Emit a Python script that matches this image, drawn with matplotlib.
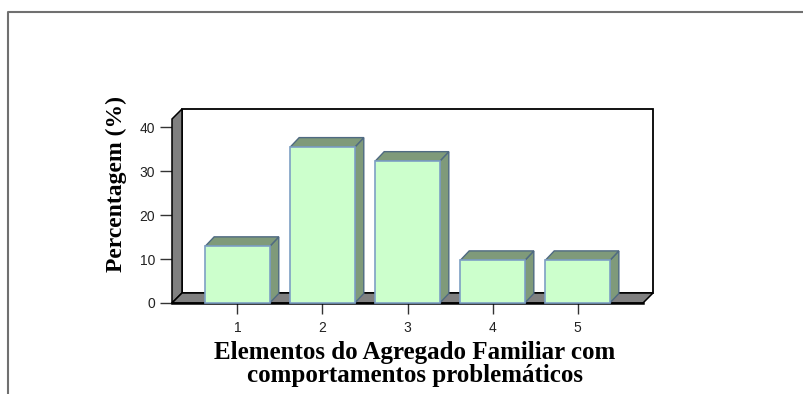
import matplotlib.pyplot as plt
from matplotlib.patches import Polygon, Rectangle
from matplotlib.lines import Line2D

# dados do grafico
categorias = [1, 2, 3, 4, 5]
percentagens = [12.9, 35.5, 32.3, 9.7, 9.7]
yticks = [0, 10, 20, 30, 40]
ylabel = 'Percentagem (%)'
xlabel = 'Elementos do Agregado Familiar com\ncomportamentos problemáticos'

fig = plt.figure(figsize=(8.04, 3.94), dpi=100)
ax = fig.add_axes([172/804, 1-303/394, 471/804, 184/394])
x0, x1 = 0.23, 5.77
ytop = 41.9
ax.set_xlim(x0, x1)
ax.set_ylim(0, ytop)


def depth(dpx, dpy):
    # offset in pixels -> data units
    o = ax.transData.transform((0, 0))
    p = ax.transData.inverted().transform((o[0]+dpx, o[1]+dpy))
    return p[0], p[1]


dx, dy = depth(10, 10)
gray = '#808080'

# back wall, left wall, floor
ax.add_patch(Rectangle((x0+dx, dy), x1-x0, ytop, fc='white', ec='black', lw=1.3, clip_on=False, zorder=1))
ax.add_patch(Polygon([(x0, 0), (x0+dx, dy), (x0+dx, ytop+dy), (x0, ytop)], closed=True,
                     fc=gray, ec='black', lw=1.1, clip_on=False, zorder=2))
ax.add_patch(Polygon([(x0, 0), (x0+dx, dy), (x1+dx, dy), (x1, 0)], closed=True,
                     fc=gray, ec='black', lw=1.1, clip_on=False, zorder=2))
ax.add_line(Line2D([x0, x1], [0, 0], color='black', lw=1.8, clip_on=False, zorder=2))

# bars
w = 0.76
bx, by = depth(9, 9.5)
for c, v in zip(categorias, percentagens):
    l, r = c - w/2, c + w/2
    ax.add_patch(Polygon([(r, 0), (r+bx, by), (r+bx, v+by), (r, v)], closed=True,
                         fc='#7f9a7a', ec='#4f6a82', lw=1, clip_on=False, zorder=3))
    ax.add_patch(Polygon([(l, v), (l+bx, v+by), (r+bx, v+by), (r, v)], closed=True,
                         fc='#7f9a7a', ec='#4f6a82', lw=1, clip_on=False, zorder=3))
    ax.add_patch(Rectangle((l, 0), w, v, fc='#ccffcc', ec='#7da0c4', lw=1.2, clip_on=False, zorder=4))

for s in ax.spines.values():
    s.set_visible(False)
ax.set_facecolor('none')
ax.set_xticks(categorias)
ax.set_yticks(yticks)
ax.tick_params(axis='y', length=9, width=1, color='#333333', pad=3, labelsize=10,
               labelcolor='#222222')
ax.tick_params(axis='x', length=8, width=1, color='#333333', pad=5, labelsize=10,
               labelcolor='#222222')
for t in ax.get_xticklabels() + ax.get_yticklabels():
    t.set_family('Liberation Sans')

fig.text(116/804, 1-184/394, ylabel, rotation=90, ha='center', va='center',
         family='Liberation Serif', weight='bold', fontsize=17)
fig.text(415/804, 1-364/394, xlabel, ha='center', va='center', multialignment='center',
         family='Liberation Serif', weight='bold', fontsize=18, linespacing=1.0)

# outer frame
fig.add_artist(Line2D([8/804, 8/804, 1], [0, 1-12/394, 1-12/394], color='#707070', lw=1.5))

fig.savefig('out.png', dpi=100)
